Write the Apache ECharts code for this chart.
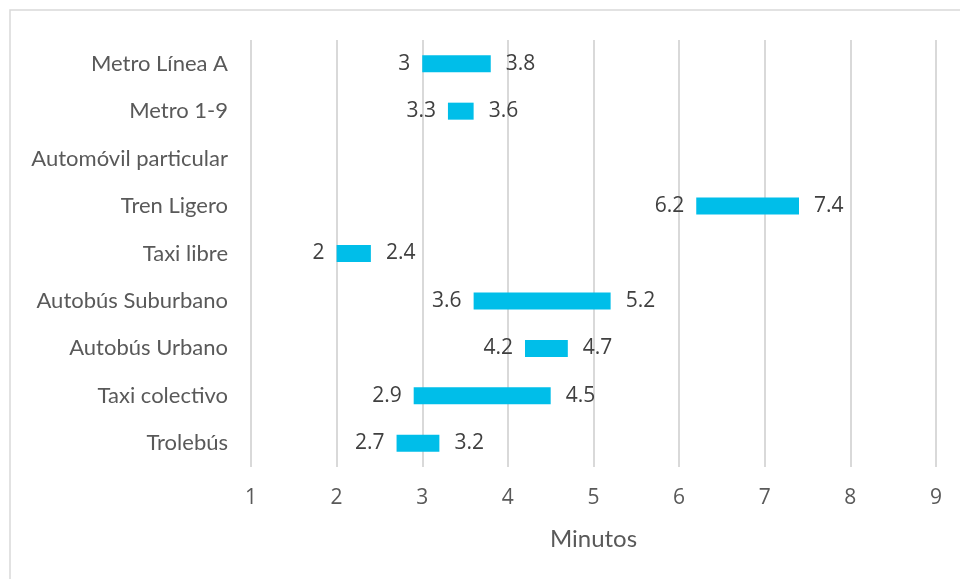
<!DOCTYPE html>
<html>
<head>
<meta charset="utf-8">
<script src="https://cdn.jsdelivr.net/npm/echarts@6/dist/echarts.min.js"></script>
<style>
  html, body { margin: 0; padding: 0; background: #fff; }
  #chart { width: 960px; height: 579px; }
</style>
</head>
<body>
<div id="chart"></div>
<script>
// Travel time range (minutes) per transport mode, listed bottom to top
const categories = ['Trolebús', 'Taxi colectivo', 'Autobús Urbano', 'Autobús Suburbano',
  'Taxi libre', 'Tren Ligero', 'Automóvil particular', 'Metro 1-9', 'Metro Línea A'];
const minValues = [2.7, 2.9, 4.2, 3.6, 2, 6.2, null, 3.3, 3];
const maxValues = [3.2, 4.5, 4.7, 5.2, 2.4, 7.4, null, 3.6, 3.8];
const xTicks = [1, 2, 3, 4, 5, 6, 7, 8, 9];
const axisTitle = 'Minutos';

const LABEL_FONT = 'Lato';
const NUM_FONT = 'Open Sans';
const chart = echarts.init(document.getElementById('chart'), null, { renderer: 'canvas' });

// invisible offset bar up to the minimum, then a visible bar spanning min..max
const baseData = minValues.map(v => (v == null ? '-' : v));
const spanData = minValues.map((v, i) => (v == null ? '-' : maxValues[i] - v));

chart.setOption({
  animation: false,
  graphic: [{
    type: 'polyline',
    shape: { points: [[10, 579], [10, 10], [960, 10]] },
    style: { stroke: '#d9d9d9', lineWidth: 1.5, fill: null }
  }],
  grid: { left: 251, right: 24, top: 40, bottom: 112, containLabel: false },
  xAxis: {
    type: 'value',
    min: xTicks[0],
    max: xTicks[xTicks.length - 1],
    interval: 1,
    axisLine: { show: false },
    axisTick: { show: false },
    splitLine: { show: true, lineStyle: { color: '#d9d9d9', width: 2 } },
    axisLabel: { color: '#595959', fontFamily: NUM_FONT, fontSize: 21, margin: 21 },
    name: axisTitle,
    nameLocation: 'middle',
    nameGap: 60,
    nameTextStyle: { color: '#595959', fontFamily: LABEL_FONT, fontSize: 24 }
  },
  yAxis: {
    type: 'category',
    data: categories,
    axisLine: { show: false },
    axisTick: { show: false },
    splitLine: { show: false },
    axisLabel: { color: '#595959', fontFamily: LABEL_FONT, fontSize: 22, margin: 23 }
  },
  series: [
    {
      type: 'bar',
      stack: 'range',
      data: baseData,
      barWidth: 17,
      itemStyle: { color: 'transparent' },
      label: {
        show: true,
        position: 'insideRight',
        distance: 12,
        color: '#404040',
        fontFamily: NUM_FONT,
        fontSize: 21,
        formatter: p => String(minValues[p.dataIndex])
      },
      silent: true
    },
    {
      type: 'bar',
      stack: 'range',
      data: spanData,
      barWidth: 17,
      itemStyle: { color: '#00BEE9' },
      label: {
        show: true,
        position: 'right',
        distance: 15,
        color: '#404040',
        fontFamily: NUM_FONT,
        fontSize: 21,
        formatter: p => String(maxValues[p.dataIndex])
      }
    }
  ]
});
</script>
</body>
</html>
